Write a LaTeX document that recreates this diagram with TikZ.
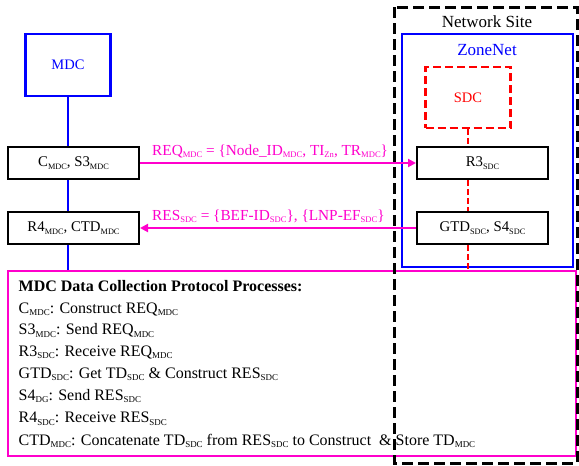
\documentclass[tikz,border=0pt]{standalone}
\usepackage{fontspec}
\setmainfont{Liberation Serif}
\usetikzlibrary{arrows.meta}
\definecolor{hotpink}{RGB}{255,0,204}
\newcommand\sbs[1]{\raisebox{-0.35ex}{\scalebox{0.56}{#1}}}
\begin{document}
\begin{tikzpicture}[x=1pt,y=-1pt,
  bigtxt/.style={font=\fontsize{17}{20}\selectfont, inner sep=0pt},
  bodytxt/.style={font=\fontsize{16}{19}\selectfont, inner sep=0pt, anchor=base west},
  procbox/.style={draw=black, line width=2pt, minimum width=131pt, minimum height=32pt, inner sep=0pt, font=\fontsize{14.8}{18}\selectfont},
  lifeblue/.style={draw=blue, line width=2pt},
  lifered/.style={draw=red, line width=2pt, dash pattern=on 6pt off 3pt},
  msg/.style={draw=hotpink, line width=2pt, -{Triangle[length=8pt,width=8pt]}},
  msglabel/.style={text=hotpink, font=\fontsize{15.3}{18}\selectfont, inner sep=0pt, anchor=base west}]
\useasboundingbox (0,0) rectangle (579,466);

% network site side
\draw[blue, line width=2.5pt] (402,34) rectangle (573,267);
\node[bigtxt] (site) at (487,22) {Network Site};
\node[bigtxt, text=blue] (zone) at (487,50) {ZoneNet};
\node[draw=red, line width=2.5pt, dash pattern=on 8pt off 4pt, minimum width=85pt, minimum height=61pt, text=red, font=\fontsize{14.5}{18}\selectfont] (sdc) at (468,97.5) {SDC};

% MDC side
\node[draw=blue, line width=2.5pt, minimum width=85pt, minimum height=62pt, text=blue, font=\fontsize{14.5}{18}\selectfont] (mdc) at (68,65) {MDC};

% process boxes
\node[procbox] (c) at (73.5,163) {C\sbs{MDC}, S3\sbs{MDC}};
\node[procbox] (r4) at (73.5,228) {R4\sbs{MDC}, CTD\sbs{MDC}};
\node[procbox] (r3) at (482.5,163) {R3\sbs{SDC}};
\node[procbox] (gtd) at (482.5,228) {GTD\sbs{SDC}, S4\sbs{SDC}};

% legend box
\node[draw=hotpink, line width=2pt, minimum width=568pt, minimum height=185pt, inner sep=0pt] (legend) at (292,363) {};

% lifelines
\draw[lifeblue] (mdc.south) -- (c.north -| mdc.south);
\draw[lifeblue] (c.south -| mdc.south) -- (r4.north -| mdc.south);
\draw[lifeblue] (r4.south -| mdc.south) -- (legend.north -| mdc.south);
\draw[lifered] (sdc.south) -- (r3.north -| sdc.south);
\draw[lifered] (r3.south -| sdc.south) -- (gtd.north -| sdc.south);
\draw[lifered] (gtd.south -| sdc.south) -- (legend.north -| sdc.south);

% messages
\draw[msg] (c.east) -- (r3.west);
\draw[msg] (gtd.west) -- (r4.east);
\node[msglabel] (req) at (152,155) {REQ\sbs{MDC} = \{Node\_ID\sbs{MDC}, TI\sbs{Zn}, TR\sbs{MDC}\}};
\node[msglabel] (res) at (152,220) {RES\sbs{SDC} = \{BEF-ID\sbs{SDC}\}, \{LNP-EF\sbs{SDC}\}};

% legend text
\node[bodytxt] (t0) at (18.5,291.5) {\bfseries MDC Data Collection Protocol Processes:};
\node[bodytxt] (t1) at (18.5,313) {C\sbs{MDC}: Construct REQ\sbs{MDC}};
\node[bodytxt] (t2) at (18.5,334.5) {S3\sbs{MDC}: Send REQ\sbs{MDC}};
\node[bodytxt] (t3) at (18.5,356) {R3\sbs{SDC}: Receive REQ\sbs{MDC}};
\node[bodytxt] (t4) at (18.5,378) {GTD\sbs{SDC}: Get TD\sbs{SDC} \& Construct RES\sbs{SDC}};
\node[bodytxt] (t5) at (18.5,400) {S4\sbs{DG}: Send RES\sbs{SDC}};
\node[bodytxt] (t6) at (18.5,422.5) {R4\sbs{SDC}: Receive RES\sbs{SDC}};
\node[bodytxt] (t7) at (18.5,445) {CTD\sbs{MDC}: Concatenate TD\sbs{SDC} from RES\sbs{SDC} to Construct\ \ \& Store TD\sbs{MDC}};

% network site boundary
\draw[black, line width=3pt, dash pattern=on 11pt off 5pt] (394,7) rectangle (577,463);
\end{tikzpicture}
\end{document}
